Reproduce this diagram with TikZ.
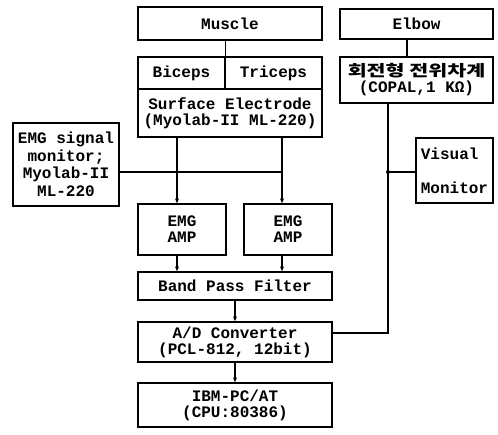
\documentclass[tikz,border=0pt]{standalone}
\usepackage{fontspec}
\setmainfont{Liberation Mono}
\newfontfamily\krfont[FakeStretch=1.33]{Noto Sans CJK KR}
\usetikzlibrary{arrows.meta}

\begin{document}
\begin{tikzpicture}[
    x=1pt, y=-1pt,
    box/.style={rectangle, draw, line width=1.3pt, inner sep=0pt, align=center,
        font=\bfseries\fontsize{16}{16}\selectfont},
    line/.style={line width=1.2pt},
    arrow/.style={line width=1.2pt, -{Stealth[length=5pt, width=4pt]}}
]
\useasboundingbox (0,0) rectangle (498,435);

% muscle side
\node[box, minimum width=184pt, minimum height=33pt] (muscle) at (230,23.5) {Muscle};
\node[box, minimum width=87pt, minimum height=32pt] (biceps) at (181.5,73) {Biceps};
\node[box, minimum width=97pt, minimum height=32pt] (triceps) at (273.5,73) {Triceps};
\node[box, minimum width=184pt, minimum height=48pt] (electrode) at (230,113) {Surface Electrode\\(Myolab-II ML-220)};
\node[box, minimum width=106pt, minimum height=83pt, font=\bfseries\fontsize{16}{17.5}\selectfont] (emgmon) at (66,164.5) {EMG signal\\monitor;\\Myolab-II\\ML-220};

% elbow side
\node[box, minimum width=153pt, minimum height=30pt] (elbow) at (416.5,24) {Elbow};
\node[box, minimum width=153pt, minimum height=46pt] (pot) at (416.5,80) {{\krfont\fontsize{15.5}{16}\selectfont 회전형 전위차계}\\(COPAL,1 KΩ)};
\node[box, minimum width=77pt, minimum height=65pt, align=left] (visual) at (454.5,170.5) {Visual\\[18pt]Monitor};

% signal chain
\node[box, minimum width=88pt, minimum height=51pt] (ampL) at (182,229.5) {EMG\\AMP};
\node[box, minimum width=88pt, minimum height=51pt] (ampR) at (288,229.5) {EMG\\AMP};
\node[box, minimum width=194pt, minimum height=28pt] (bpf) at (235,286) {Band Pass Filter};
\node[box, minimum width=194pt, minimum height=40pt] (adc) at (235,342) {A/D Converter\\(PCL-812, 12bit)};
\node[box, minimum width=194pt, minimum height=44pt] (ibm) at (235,405) {IBM-PC/AT\\(CPU:80386)};

\coordinate (chL) at (177,172);
\coordinate (chR) at (282,172);
\coordinate (potdown) at (388,103);
\coordinate (join) at (388,172);
\coordinate (corner) at (388,333);

\draw[line] (muscle.south -| biceps.east) -- (biceps.north east);
\draw[line] (elbow.south -| 407,0) -- (pot.north -| 407,0);
\draw[arrow] (electrode.south -| chL) -- (ampL.north -| chL);
\draw[arrow] (electrode.south -| chR) -- (ampR.north -| chR);
\draw[line] (emgmon.east |- chL) -- (chR);
\draw[arrow] (ampL.south -| chL) -- (bpf.north -| chL);
\draw[arrow] (ampR.south -| chR) -- (bpf.north -| chR);
\draw[arrow] (bpf) -- (adc);
\draw[arrow] (adc) -- (ibm);
\draw[line] (potdown) -- (corner) -- (adc.east |- corner);
\draw[line] (visual.west |- join) -- (join);
\fill (join) circle (2pt);

\end{tikzpicture}
\end{document}
